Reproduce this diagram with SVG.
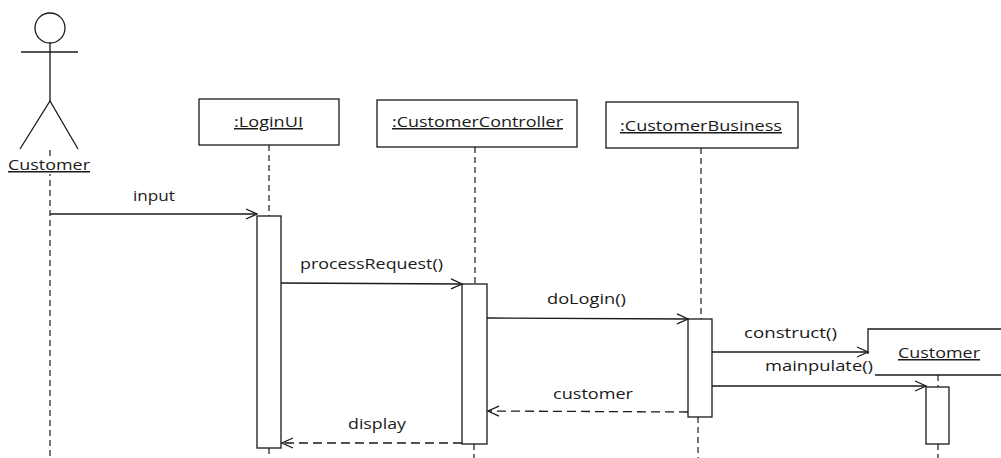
<svg xmlns="http://www.w3.org/2000/svg" width="1001" height="458" viewBox="0 0 1001 458">
<style>
  .ln{stroke:#1a1a1a;stroke-width:1.3;fill:none}
  .box{stroke:#1a1a1a;stroke-width:1.3;fill:#fff}
  .life{stroke:#1a1a1a;stroke-width:1.2;stroke-dasharray:6 4;fill:none}
  .ret{stroke:#1a1a1a;stroke-width:1.3;stroke-dasharray:9 5;fill:none}
  .t{font-family:"Open Sans","DejaVu Sans",sans-serif;font-size:15px;fill:#1a1a1a}
  .u{text-decoration:underline}
</style>
<defs>
  <marker id="open" markerWidth="14" markerHeight="14" refX="12" refY="6" orient="auto" markerUnits="userSpaceOnUse">
    <polyline points="1,1 12,6 1,11" fill="none" stroke="#1a1a1a" stroke-width="1.3"/>
  </marker>
</defs>
<rect width="1001" height="458" fill="#fff"/>

<g id="lifelines">
  <line class="life" x1="50" y1="150" x2="50" y2="458"/>
  <line class="life" x1="269" y1="145" x2="269" y2="216"/>
  <line class="life" x1="269" y1="448" x2="269" y2="458"/>
  <line class="life" x1="475" y1="147" x2="475" y2="284"/>
  <line class="life" x1="474" y1="444" x2="474" y2="458"/>
  <line class="life" x1="701" y1="148" x2="701" y2="319"/>
  <line class="life" x1="698" y1="417" x2="698" y2="458"/>
  <line class="life" x1="938" y1="375" x2="938" y2="387"/>
  <line class="life" x1="938" y1="444" x2="938" y2="458"/>
</g>

<g id="actor-customer">
  <circle class="ln" cx="50" cy="28" r="15"/>
  <line class="ln" x1="50" y1="43" x2="50" y2="101"/>
  <line class="ln" x1="21" y1="52" x2="78" y2="52"/>
  <polyline class="ln" points="20,149 50,101 78,149"/>
  <rect x="6" y="156" width="86" height="18" fill="#fff"/>
  <text class="t u" x="8" y="170" textLength="82" lengthAdjust="spacingAndGlyphs">Customer</text>
</g>

<g id="loginui">
  <rect class="box" x="199" y="99" width="140" height="46"/>
  <text class="t u" x="234" y="127" textLength="69" lengthAdjust="spacingAndGlyphs">:LoginUI</text>
</g>

<g id="customercontroller">
  <rect class="box" x="377" y="100" width="200" height="47"/>
  <text class="t u" x="392" y="127" textLength="171" lengthAdjust="spacingAndGlyphs">:CustomerController</text>
</g>

<g id="customerbusiness">
  <rect class="box" x="606" y="102" width="192" height="46"/>
  <text class="t u" x="620" y="131" textLength="162" lengthAdjust="spacingAndGlyphs">:CustomerBusiness</text>
</g>

<g id="customer-object">
  <polyline class="ln" points="868,354 868,329 1003,329"/>
  <line class="ln" x1="875" y1="375" x2="1003" y2="375"/>
  <text class="t u" x="898" y="358" textLength="82" lengthAdjust="spacingAndGlyphs">Customer</text>
</g>

<g id="activations">
  <rect class="box" x="257" y="216" width="24" height="232"/>
  <rect class="box" x="462" y="284" width="25" height="160"/>
  <rect class="box" x="688" y="319" width="24" height="98"/>
  <rect class="box" x="926" y="387" width="23" height="57"/>
</g>

<g id="connectors">
  <line class="ln" x1="50" y1="214" x2="257" y2="214" marker-end="url(#open)"/>
  <text class="t" x="133" y="201" textLength="42" lengthAdjust="spacingAndGlyphs">input</text>

  <line class="ln" x1="281" y1="283" x2="462" y2="284" marker-end="url(#open)"/>
  <text class="t" x="300" y="269" textLength="143" lengthAdjust="spacingAndGlyphs">processRequest()</text>

  <line class="ln" x1="487" y1="318" x2="688" y2="319" marker-end="url(#open)"/>
  <text class="t" x="547" y="304" textLength="79" lengthAdjust="spacingAndGlyphs">doLogin()</text>

  <line class="ln" x1="712" y1="352" x2="868" y2="352" marker-end="url(#open)"/>
  <text class="t" x="744" y="338" textLength="93" lengthAdjust="spacingAndGlyphs">construct()</text>

  <line class="ln" x1="712" y1="386" x2="926" y2="386" marker-end="url(#open)"/>
  <text class="t" x="765" y="371" textLength="108" lengthAdjust="spacingAndGlyphs">mainpulate()</text>

  <line class="ret" x1="688" y1="412" x2="488" y2="411" marker-end="url(#open)"/>
  <text class="t" x="553" y="399" textLength="80" lengthAdjust="spacingAndGlyphs">customer</text>

  <line class="ret" x1="462" y1="443" x2="282" y2="443" marker-end="url(#open)"/>
  <text class="t" x="348" y="429" textLength="58" lengthAdjust="spacingAndGlyphs">display</text>
</g>
</svg>
